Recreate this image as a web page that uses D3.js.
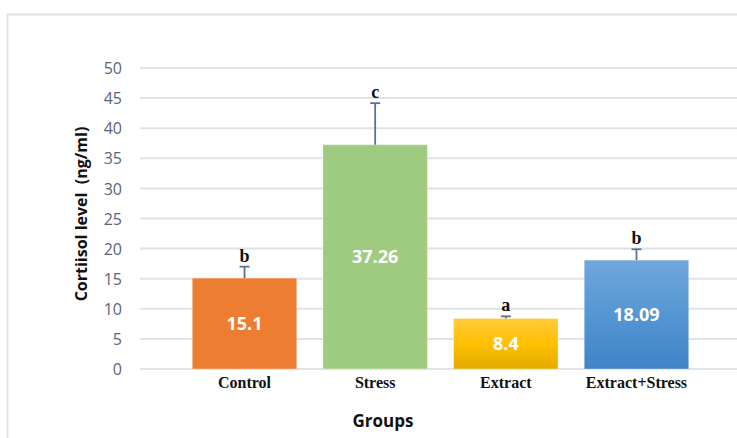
<!DOCTYPE html>
<html><head><meta charset="utf-8">
<script src="https://cdn.jsdelivr.net/npm/d3@7"></script>
<style>body{margin:0;background:#fff;} svg{display:block;}</style>
</head><body>
<svg id="chart" width="737" height="438"></svg>
<script>
const categories = ["Control", "Stress", "Extract", "Extract+Stress"];
const values = [15.1, 37.26, 8.4, 18.09];
const errors = [1.9, 6.9, 0.35, 1.8];
const letters = ["b", "c", "a", "b"];
const yTicks = [0, 5, 10, 15, 20, 25, 30, 35, 40, 45, 50];

const svg = d3.select("#chart");
const defs = svg.append("defs");
const gY = defs.append("linearGradient").attr("id","gY").attr("x1",0).attr("y1",0).attr("x2",0).attr("y2",1);
gY.append("stop").attr("offset","0%").attr("stop-color","#ffca3a");
gY.append("stop").attr("offset","50%").attr("stop-color","#ffc000");
gY.append("stop").attr("offset","100%").attr("stop-color","#e3ab00");
const gB = defs.append("linearGradient").attr("id","gB").attr("x1",0).attr("y1",0).attr("x2",0).attr("y2",1);
gB.append("stop").attr("offset","0%").attr("stop-color","#6fa7dd");
gB.append("stop").attr("offset","50%").attr("stop-color","#5596d4");
gB.append("stop").attr("offset","100%").attr("stop-color","#3f84c8");
const fills = ["#ed7d31", "#9fcb80", "url(#gY)", "url(#gB)"];

// outer frame
svg.append("rect").attr("x",7.5).attr("y",14.5).attr("width",760).attr("height",460)
  .attr("fill","none").attr("stroke","#dde3ea").attr("stroke-width",2);

const y = d3.scaleLinear().domain([0,50]).range([369,68]);
const x = d3.scaleBand().domain(categories).range([140,741]).paddingInner(0.2).paddingOuter(0.4);

// gridlines
svg.append("g").selectAll("line").data(yTicks).join("line")
  .attr("x1",140).attr("x2",741)
  .attr("y1",d=>y(d)).attr("y2",d=>y(d))
  .attr("stroke","#dde3ea").attr("stroke-width",2);

// y axis labels
const yAxis = d3.axisLeft(y).tickValues(yTicks).tickSize(0).tickPadding(0);
const ga = svg.append("g").attr("transform","translate(122,0)").call(yAxis);
ga.select(".domain").remove();
ga.selectAll("text").attr("font-family","'Open Sans', sans-serif").attr("font-size",16)
  .attr("fill","#5b6477").attr("dy","0.35em");

// bars
svg.append("g").selectAll("rect").data(values).join("rect")
  .attr("x",(d,i)=>x(categories[i])).attr("width",x.bandwidth())
  .attr("y",d=>y(d)).attr("height",d=>y(0)-y(d))
  .attr("fill",(d,i)=>fills[i]).attr("stroke","rgba(255,255,255,0.35)").attr("stroke-width",1);

// error bars
const eg = svg.append("g").attr("stroke","#5a7190").attr("stroke-width",1.8);
values.forEach((v,i)=>{
  const cx = x(categories[i]) + x.bandwidth()/2;
  eg.append("line").attr("x1",cx).attr("x2",cx).attr("y1",y(v)).attr("y2",y(v+errors[i]));
  eg.append("line").attr("x1",cx-5).attr("x2",cx+5).attr("y1",y(v+errors[i])).attr("y2",y(v+errors[i]));
});

// significance letters
svg.append("g").selectAll("text").data(letters).join("text")
  .attr("x",(d,i)=>x(categories[i]) + x.bandwidth()/2)
  .attr("y",(d,i)=>y(values[i]+errors[i]) - 5)
  .attr("text-anchor","middle")
  .attr("font-family","'Liberation Serif', 'Times New Roman', serif").attr("font-weight","bold")
  .attr("font-size",18).attr("fill","#111")
  .text(d=>d);

// value labels
svg.append("g").selectAll("text").data(values).join("text")
  .attr("x",(d,i)=>x(categories[i]) + x.bandwidth()/2)
  .attr("y",d=>(y(d)+y(0))/2)
  .attr("dy","0.36em")
  .attr("text-anchor","middle")
  .attr("font-family","'Open Sans', sans-serif").attr("font-weight","bold")
  .attr("font-size",18).attr("fill","#ffffff")
  .text(d=>String(d));

// x labels
const xAxis = d3.axisBottom(x).tickSize(0).tickPadding(0);
const gx = svg.append("g").attr("transform","translate(0,388)").call(xAxis);
gx.select(".domain").remove();
gx.selectAll("text").attr("dy",0).attr("y",0)
  .attr("font-family","'Liberation Serif', 'Times New Roman', serif").attr("font-weight","bold")
  .attr("font-size",16).attr("fill","#111");

// axis titles
svg.append("text").attr("x",383).attr("y",427).attr("text-anchor","middle")
  .attr("font-family","'Open Sans', sans-serif").attr("font-weight","bold").attr("font-size",17)
  .attr("fill","#111").text("Groups");
svg.append("text").attr("transform","translate(87,214) rotate(-90)").attr("text-anchor","middle")
  .attr("font-family","'Open Sans', sans-serif").attr("font-weight","bold").attr("font-size",16)
  .attr("fill","#111").attr("xml:space","preserve").style("white-space","pre").text("Cortiisol level  (ng/ml)");
</script>
</body></html>
